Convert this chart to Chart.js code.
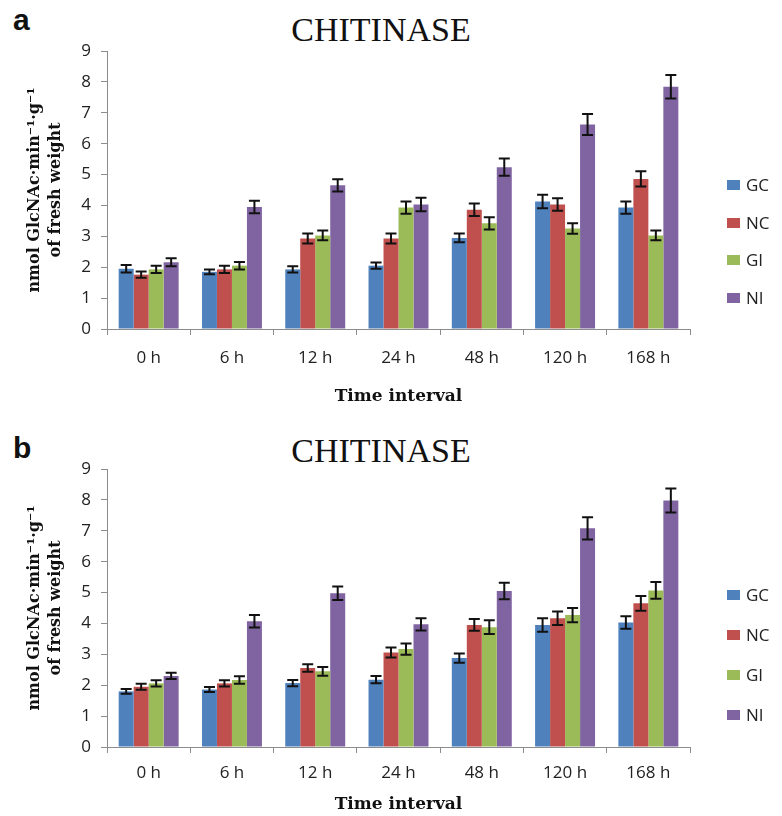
<!DOCTYPE html>
<html>
<head>
<meta charset="utf-8">
<script src="https://cdn.jsdelivr.net/npm/chart.js@4.4.1/dist/chart.umd.min.js"></script>
<style>
  body { margin: 0; background: #fff; }
  #page { position: relative; width: 782px; height: 816px; overflow: hidden; }
  canvas { position: absolute; left: 0; }
  .panel-letter { position: absolute; left: 13px; font: bold 30px "Liberation Sans", Arial, sans-serif; line-height: 1; color: #111; }
  .panel-title { position: absolute; left: 281px; width: 200px; text-align: center; font: 34px "Liberation Serif", serif; line-height: 40px; height: 40px; color: #111; }
  .legend { position: absolute; left: 727px; font: 17px "Open Sans", sans-serif; color: #222; }
  .legend-item { position: absolute; left: 0; white-space: nowrap; height: 20px; line-height: 20px; }
  .legend-box { position: absolute; left: 0; top: 5px; width: 13px; height: 10px; }
  .legend-text { position: absolute; left: 19px; top: 0; }
</style>
</head>
<body>
<div id="page">
  <div class="panel-letter" style="top:5px">a</div>
  <div class="panel-title" style="top:10px">CHITINASE</div>
  <canvas id="chart-a" width="762" height="418" style="top:0"></canvas>
  <div class="legend" id="legend-a"></div>

  <div class="panel-letter" style="top:433px">b</div>
  <div class="panel-title" style="top:431px">CHITINASE</div>
  <canvas id="chart-b" width="762" height="398" style="top:418px"></canvas>
  <div class="legend" id="legend-b"></div>
</div>

<script>
'use strict';

// categories and series
const timeLabels = ["0 h", "6 h", "12 h", "24 h", "48 h", "120 h", "168 h"];
const seriesNames = ["GC", "NC", "GI", "NI"];
const seriesColors = ["#4F81BD", "#C0504D", "#9BBB59", "#8064A2"];
const yTicks = [0, 1, 2, 3, 4, 5, 6, 7, 8, 9];

// panel a values (nmol GlcNAc per min per g fresh weight)
const aGC = [1.95, 1.85, 1.93, 2.05, 2.95, 4.13, 3.93];
const aNC = [1.76, 1.93, 2.93, 2.93, 3.86, 4.03, 4.86];
const aGI = [1.93, 2.05, 3.03, 3.93, 3.42, 3.25, 3.03];
const aNI = [2.16, 3.95, 4.65, 4.03, 5.24, 6.62, 7.84];

// panel a error bars (+/-)
const aGCerr = [0.12, 0.08, 0.10, 0.10, 0.14, 0.22, 0.20];
const aNCerr = [0.10, 0.12, 0.16, 0.16, 0.20, 0.20, 0.25];
const aGIerr = [0.12, 0.12, 0.16, 0.20, 0.20, 0.17, 0.16];
const aNIerr = [0.13, 0.20, 0.20, 0.22, 0.28, 0.34, 0.38];

// panel b values
const bGC = [1.80, 1.86, 2.07, 2.18, 2.88, 3.95, 4.03];
const bNC = [1.95, 2.06, 2.56, 3.06, 3.95, 4.17, 4.65];
const bGI = [2.06, 2.17, 2.45, 3.17, 3.88, 4.27, 5.07];
const bNI = [2.30, 4.07, 4.98, 3.97, 5.05, 7.08, 7.98];

// panel b error bars (+/-)
const bGCerr = [0.08, 0.08, 0.10, 0.12, 0.15, 0.22, 0.20];
const bNCerr = [0.10, 0.10, 0.12, 0.16, 0.19, 0.22, 0.24];
const bGIerr = [0.10, 0.12, 0.14, 0.18, 0.22, 0.23, 0.27];
const bNIerr = [0.10, 0.20, 0.22, 0.20, 0.27, 0.36, 0.39];


// error bars drawn through the y scale, on top of each bar
const errorBarPlugin = {
    id: "errorBars",
    afterDatasetsDraw(chart) {
        const ctx = chart.ctx;
        const yScale = chart.scales.y;
        ctx.save();
        ctx.strokeStyle = "#111";
        ctx.lineWidth = 2;
        chart.data.datasets.forEach((dataset, i) => {
            const meta = chart.getDatasetMeta(i);
            meta.data.forEach((bar, j) => {
                const value = dataset.data[j];
                const err = dataset.errorBars[j];
                const yTop = yScale.getPixelForValue(value + err);
                const yBottom = yScale.getPixelForValue(value - err);
                const half = 5.5;
                ctx.beginPath();
                ctx.moveTo(bar.x, yTop);
                ctx.lineTo(bar.x, yBottom);
                ctx.moveTo(bar.x - half, yTop);
                ctx.lineTo(bar.x + half, yTop);
                ctx.moveTo(bar.x - half, yBottom);
                ctx.lineTo(bar.x + half, yBottom);
                ctx.stroke();
            });
        });
        ctx.restore();
    }
};


function buildLegend(legendId, firstTop, gap) {
    const legend = document.getElementById(legendId);
    seriesNames.forEach((name, i) => {
        const item = document.createElement("div");
        item.className = "legend-item";
        item.style.top = `${firstTop + i * gap - 10}px`;
        const box = document.createElement("span");
        box.className = "legend-box";
        box.style.background = seriesColors[i];
        const text = document.createElement("span");
        text.className = "legend-text";
        text.innerText = name;
        item.appendChild(box);
        item.appendChild(text);
        legend.appendChild(item);
    });
}


function drawPanel(canvasId, seriesValues, seriesErrors, layout) {
    const ctx = document.getElementById(canvasId);

    const datasets = seriesNames.map((name, i) => ({
        label: name,
        data: seriesValues[i],
        errorBars: seriesErrors[i],
        backgroundColor: seriesColors[i],
        borderWidth: 0,
        categoryPercentage: 0.72,
        barPercentage: 1.0,
    }));

    const axisGray = "#8c8c8c";

    new Chart(ctx, {
        type: "bar",
        data: {
            labels: timeLabels,
            datasets: datasets,
        },
        options: {
            responsive: false,
            animation: false,
            layout: {
                padding: { left: 20.6, right: 72, top: 51, bottom: layout.bottom },
            },
            scales: {
                x: {
                    grid: {
                        display: true,
                        drawOnChartArea: false,
                        drawTicks: true,
                        tickLength: 6,
                        color: axisGray,
                    },
                    border: { display: true, color: axisGray, width: 1 },
                    ticks: {
                        color: "#222",
                        padding: layout.xTickPad,
                        font: { family: "Open Sans", size: 17 },
                    },
                    title: {
                        display: true,
                        text: "Time interval",
                        color: "#111",
                        font: { family: "DejaVu Serif", size: 17, weight: "bold", lineHeight: 1.2 },
                        padding: { top: layout.xTitleTop, bottom: layout.xTitleBottom },
                    },
                },
                y: {
                    min: 0,
                    max: 9,
                    afterBuildTicks: axis => {
                        axis.ticks = yTicks.map(v => ({ value: v }));
                    },
                    grid: {
                        display: true,
                        drawOnChartArea: false,
                        drawTicks: true,
                        tickLength: 6,
                        color: axisGray,
                    },
                    border: { display: true, color: axisGray, width: 1 },
                    ticks: {
                        color: "#222",
                        padding: 10,
                        font: { family: "Open Sans", size: 17 },
                    },
                    title: {
                        display: true,
                        text: ["nmol GlcNAc·min⁻¹·g⁻¹", "of fresh weight"],
                        color: "#111",
                        font: { family: "DejaVu Serif", size: 16, weight: "bold", lineHeight: 1.3 },
                        padding: { top: 4, bottom: 5.1 },
                    },
                },
            },
            plugins: {
                legend: { display: false },
                tooltip: { enabled: false },
                title: { display: false },
            },
        },
        plugins: [errorBarPlugin],
    });
}


drawPanel("chart-a", [aGC, aNC, aGI, aNI], [aGCerr, aNCerr, aGIerr, aNIerr],
    { xTickPad: 13, xTitleTop: 5.4, xTitleBottom: 2, bottom: 8.8 });
drawPanel("chart-b", [bGC, bNC, bGI, bNI], [bGCerr, bNCerr, bGIerr, bNIerr],
    { xTickPad: 10, xTitleTop: 1.4, xTitleBottom: 0, bottom: 0.8 });

buildLegend("legend-a", 185, 37.7);
buildLegend("legend-b", 595, 40);
</script>
</body>
</html>
